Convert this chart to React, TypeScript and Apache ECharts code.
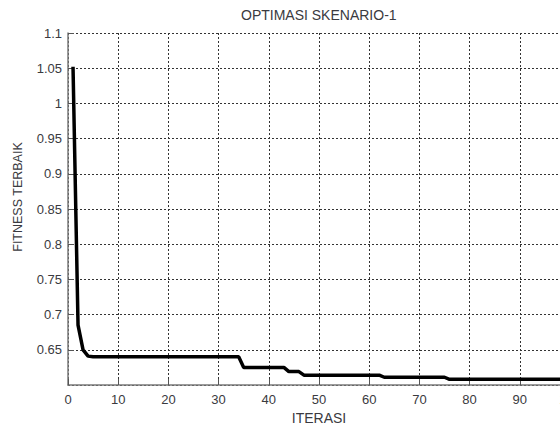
import React, { useEffect, useRef } from "react";
import * as echarts from "echarts";

const iterations: number[] = Array.from({ length: 100 }, (_, i) => i + 1);

// Best fitness per iteration
const fitness: number[] = [
  1.052, 0.685, 0.65, 0.641, 0.64, 0.64, 0.64, 0.64, 0.64, 0.64,
  0.64, 0.64, 0.64, 0.64, 0.64, 0.64, 0.64, 0.64, 0.64, 0.64,
  0.64, 0.64, 0.64, 0.64, 0.64, 0.64, 0.64, 0.64, 0.64, 0.64,
  0.64, 0.64, 0.64, 0.64, 0.625, 0.625, 0.625, 0.625, 0.625, 0.625,
  0.625, 0.625, 0.625, 0.619, 0.619, 0.619, 0.614, 0.614, 0.614, 0.614,
  0.614, 0.614, 0.614, 0.614, 0.614, 0.614, 0.614, 0.614, 0.614, 0.614,
  0.614, 0.614, 0.611, 0.611, 0.611, 0.611, 0.611, 0.611, 0.611, 0.611,
  0.611, 0.611, 0.611, 0.611, 0.611, 0.608, 0.608, 0.608, 0.608, 0.608,
  0.608, 0.608, 0.608, 0.608, 0.608, 0.608, 0.608, 0.608, 0.608, 0.608,
  0.608, 0.608, 0.608, 0.608, 0.608, 0.608, 0.608, 0.608, 0.608, 0.608,
];

const titleText = "OPTIMASI SKENARIO-1";
const xAxisName = "ITERASI";
const yAxisName = "FITNESS TERBAIK";

const FONT = "'Liberation Sans', Arial, sans-serif";
const TEXT_COLOR = "#3a3a40";

export default function App() {
  const ref = useRef<HTMLDivElement>(null);

  useEffect(() => {
    if (!ref.current) return;
    const chart = echarts.init(ref.current, undefined, { renderer: "svg" });
    const gridLine = { show: true, lineStyle: { color: "#333", width: 1, type: [2, 2] as number[] } };
    chart.setOption({
      animation: false,
      backgroundColor: "#ffffff",
      title: {
        text: titleText,
        left: 241,
        top: 8,
        padding: 0,
        textStyle: { fontFamily: FONT, fontSize: 14, fontWeight: "normal", color: TEXT_COLOR },
      },
      grid: {
        left: 68,
        top: 33,
        width: 502,
        height: 352,
        containLabel: false,
        outerBoundsMode: "none",
      },
      xAxis: {
        type: "value",
        min: 0,
        max: 100,
        interval: 10,
        name: xAxisName,
        nameLocation: "middle",
        nameGap: 24,
        nameTextStyle: { fontFamily: FONT, fontSize: 14, color: TEXT_COLOR },
        axisLine: { show: true, lineStyle: { color: "#7a7a7a", width: 1.5 } },
        axisTick: { show: true, inside: true, length: 6, lineStyle: { color: "#555" } },
        axisLabel: { fontFamily: FONT, fontSize: 13, color: TEXT_COLOR, margin: 8, hideOverlap: false },
        splitLine: gridLine,
      },
      yAxis: {
        type: "value",
        min: 0.6,
        max: 1.1,
        interval: 0.05,
        axisLine: { show: true, onZero: false, lineStyle: { color: "#7a7a7a", width: 1.5 } },
        axisTick: { show: true, inside: true, length: 6, lineStyle: { color: "#555" } },
        axisLabel: {
          fontFamily: FONT,
          fontSize: 13,
          color: TEXT_COLOR,
          margin: 6,
          showMinLabel: false,
          formatter: (v: number) => String(parseFloat(v.toFixed(2))),
        },
        splitLine: gridLine,
      },
      graphic: [
        {
          type: "text",
          x: 18,
          y: 197,
          rotation: Math.PI / 2,
          style: {
            text: yAxisName,
            fontFamily: FONT,
            fontSize: 12.5,
            fill: TEXT_COLOR,
            textAlign: "center",
            textVerticalAlign: "middle",
          },
        },
      ],
      series: [
        {
          type: "line",
          data: iterations.map((it, i) => [it, fitness[i]]),
          showSymbol: false,
          symbol: "none",
          lineStyle: { color: "#000", width: 3.5 },
          clip: true,
        },
      ],
    });
    return () => chart.dispose();
  }, []);

  return (
    <div
      ref={ref}
      style={{ position: "fixed", left: 0, top: 0, width: 560, height: 428, background: "#fff" }}
    />
  );
}
